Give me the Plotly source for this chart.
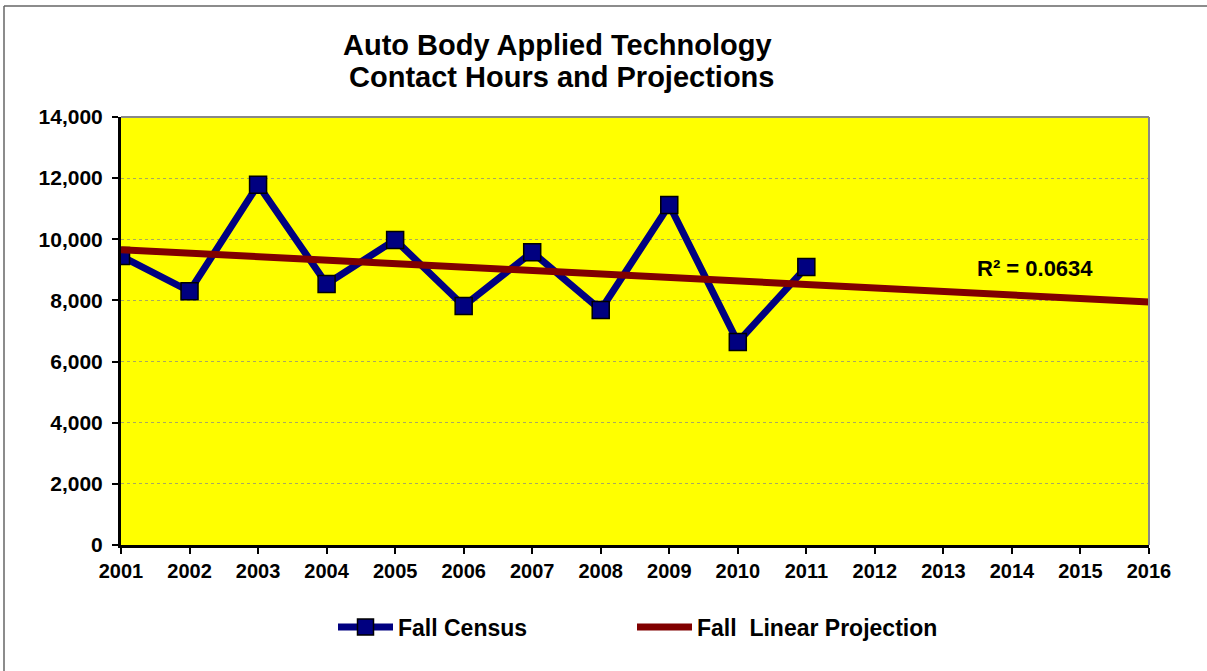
import numpy as np
import plotly.graph_objects as go

years = [2001, 2002, 2003, 2004, 2005, 2006, 2007, 2008, 2009, 2010, 2011]
fall_census = [9450, 8300, 11780, 8540, 9980, 7820, 9580, 7690, 11120, 6640, 9090]
proj_years = list(range(2001, 2017))
r2_label = "R² = 0.0634"
title_lines = ["Auto Body Applied Technology", " Contact Hours and Projections"]

slope, intercept = np.polyfit(years, fall_census, 1)
trend = [slope * y + intercept for y in proj_years]

font = "Liberation Sans, Arial, sans-serif"

fig = go.Figure()
fig.add_trace(go.Scatter(
    x=years, y=fall_census, mode="lines+markers", name="<b>Fall Census</b>",
    line=dict(color="#000080", width=7), legend="legend",
    marker=dict(symbol="square", size=17, color="#000080", line=dict(color="black", width=1.5)),
))
fig.add_trace(go.Scatter(
    x=proj_years, y=trend, mode="lines", name="<b>Fall  Linear Projection</b>",
    line=dict(color="#800000", width=7), legend="legend2",
))

PL, PR, PT, PB = 121, 1149, 117, 545
PW, PH = PR - PL, PB - PT

annotations = [dict(text=f"<b>{r2_label}</b>", xref="paper", yref="paper",
                    x=(1035 - PL) / PW, y=(PB - 268) / PH,
                    xanchor="center", yanchor="middle",
                    showarrow=False, font=dict(size=22, family=font))]
for txt, ypx in zip(title_lines, [45, 77]):
    annotations.append(dict(text=f"<b>{txt}</b>", xref="paper", yref="paper",
                            x=(557 - PL) / PW, y=(PB - ypx) / PH,
                            xanchor="center", yanchor="middle", showarrow=False,
                            font=dict(size=29, family=font)))

legend_common = dict(orientation="h", xanchor="left", yanchor="middle",
                     y=(PB - 627) / PH, font=dict(size=23, family=font),
                     itemwidth=55, bgcolor="rgba(0,0,0,0)")

fig.update_layout(
    width=1207, height=671,
    margin=dict(l=PL, r=1207 - PR, t=PT, b=671 - PB),
    paper_bgcolor="white", plot_bgcolor="#FFFF00",
    font=dict(family=font, color="black"),
    showlegend=True,
    legend=dict(x=(333 - PL) / PW, **legend_common),
    legend2=dict(x=(632 - PL) / PW, **legend_common),
    xaxis=dict(range=[2001, 2016], tickmode="array", tickvals=proj_years,
               ticktext=[f"<b>{y}</b>" for y in proj_years],
               tickfont=dict(size=20), showgrid=False, zeroline=False,
               showline=True, linecolor="black", linewidth=3, mirror=False,
               ticks="outside", ticklen=6, tickwidth=2, tickcolor="black"),
    yaxis=dict(range=[0, 14000], tickmode="array", tickvals=list(range(0, 14001, 2000)),
               ticktext=[f"<b>{v:,}</b>" for v in range(0, 14001, 2000)],
               tickfont=dict(size=21), showgrid=True, gridcolor="#A8A860", gridwidth=1,
               griddash="dot", zeroline=False,
               showline=True, linecolor="black", linewidth=3,
               ticks="outside", ticklen=6, tickwidth=2, tickcolor="black",
               ticklabelstandoff=5),
    annotations=annotations,
)

# plot area top/right grey border
fig.add_shape(type="line", xref="paper", yref="paper", x0=0, x1=1, y0=1, y1=1,
              line=dict(color="#888888", width=2))
fig.add_shape(type="line", xref="paper", yref="paper", x0=1, x1=1, y0=0, y1=1,
              line=dict(color="#888888", width=2))
# outer chart border (left and top)
fig.add_shape(type="line", xref="paper", yref="paper",
              x0=(4 - PL) / PW, x1=(4 - PL) / PW, y0=(PB - 680) / PH, y1=(PB - 6) / PH,
              line=dict(color="#666666", width=1.5))
fig.add_shape(type="line", xref="paper", yref="paper",
              x0=(4 - PL) / PW, x1=(1210 - PL) / PW, y0=(PB - 6) / PH, y1=(PB - 6) / PH,
              line=dict(color="#666666", width=1.5))

fig.write_html("out.html", config={"displayModeBar": False},
               post_script="document.body.style.margin='0';")
